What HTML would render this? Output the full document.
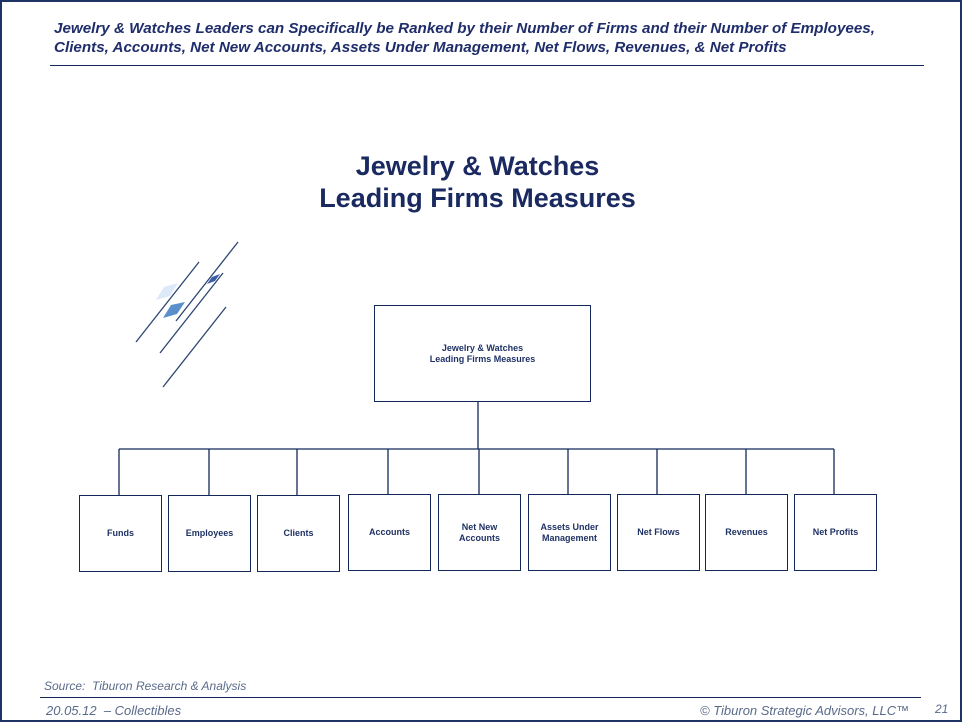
<!DOCTYPE html>
<html><head><style>
body{margin:0;width:962px;height:722px;position:relative;background:#fff;font-family:"Liberation Sans",sans-serif;overflow:hidden}
.frame{position:absolute;left:0;top:0;width:958px;height:718px;border:2px solid #1f3264}
.t{position:absolute;white-space:nowrap}
.box{position:absolute;border:1px solid #14285a;box-sizing:border-box;display:flex;align-items:center;justify-content:center;text-align:center;font-size:9px;font-weight:bold;color:#1f3264;line-height:11px}
</style></head><body>
<div class="frame"></div>
<div class="t" style="left:54px;top:19px;font-size:15.2px;font-weight:bold;font-style:italic;color:#1f2d6a;line-height:19px">Jewelry &amp; Watches Leaders can Specifically be Ranked by their Number of Firms and their Number of Employees,<br>Clients, Accounts, Net New Accounts, Assets Under Management, Net Flows, Revenues, &amp; Net Profits</div>
<div style="position:absolute;left:50px;top:65px;width:874px;height:1px;background:#14285a"></div>
<div class="t" style="left:0;width:955px;top:150px;text-align:center;font-size:27px;font-weight:bold;color:#1a2a60;line-height:32px">Jewelry &amp; Watches<br>Leading Firms Measures</div>
<svg style="position:absolute;left:0;top:0" width="962" height="722">
<g stroke="#2d4472" stroke-width="1.3">
<line x1="136" y1="342" x2="199" y2="262"/>
<line x1="176" y1="321" x2="238" y2="242"/>
<line x1="160" y1="353" x2="223" y2="273"/>
<line x1="163" y1="387" x2="226" y2="307"/>
</g>
<polygon points="156,300 164,287 178,283 170,296" fill="#dde8f8"/>
<polygon points="163,318 171,305 185,302 177,314" fill="#5b8fcb"/>
<polygon points="207,284 212,277 220,274 215,281" fill="#3b5aa8"/>
<g stroke="#14285a" stroke-width="1.3" fill="none">
<line x1="478" y1="401" x2="478" y2="449"/>
<line x1="119" y1="449" x2="834" y2="449"/>
<line x1="119" y1="449" x2="119" y2="495"/>
<line x1="209" y1="449" x2="209" y2="495"/>
<line x1="297" y1="449" x2="297" y2="495"/>
<line x1="388" y1="449" x2="388" y2="494"/>
<line x1="479" y1="449" x2="479" y2="494"/>
<line x1="568" y1="449" x2="568" y2="494"/>
<line x1="657" y1="449" x2="657" y2="494"/>
<line x1="746" y1="449" x2="746" y2="494"/>
<line x1="834" y1="449" x2="834" y2="494"/>
</g>
</svg>
<div class="box" style="left:374px;top:305px;width:217px;height:97px">Jewelry &amp; Watches<br>Leading Firms Measures</div>
<div class="box" style="left:79px;top:495px;width:83px;height:77px">Funds</div>
<div class="box" style="left:168px;top:495px;width:83px;height:77px">Employees</div>
<div class="box" style="left:257px;top:495px;width:83px;height:77px">Clients</div>
<div class="box" style="left:348px;top:494px;width:83px;height:77px">Accounts</div>
<div class="box" style="left:438px;top:494px;width:83px;height:77px">Net New<br>Accounts</div>
<div class="box" style="left:528px;top:494px;width:83px;height:77px">Assets Under<br>Management</div>
<div class="box" style="left:617px;top:494px;width:83px;height:77px">Net Flows</div>
<div class="box" style="left:705px;top:494px;width:83px;height:77px">Revenues</div>
<div class="box" style="left:794px;top:494px;width:83px;height:77px">Net Profits</div>
<div class="t" style="left:44px;top:679px;font-size:12px;font-style:italic;color:#5a6a8a">Source:&nbsp; Tiburon Research &amp; Analysis</div>
<div style="position:absolute;left:40px;top:697px;width:881px;height:1px;background:#14285a"></div>
<div class="t" style="left:46px;top:703px;font-size:13px;font-style:italic;color:#5a6a8a">20.05.12&nbsp; – Collectibles</div>
<div class="t" style="left:700px;top:703px;font-size:13px;font-style:italic;color:#5a6a8a">© Tiburon Strategic Advisors, LLC™</div>
<div class="t" style="left:935px;top:702px;font-size:12px;font-style:italic;color:#5a6a8a">21</div>
</body></html>
